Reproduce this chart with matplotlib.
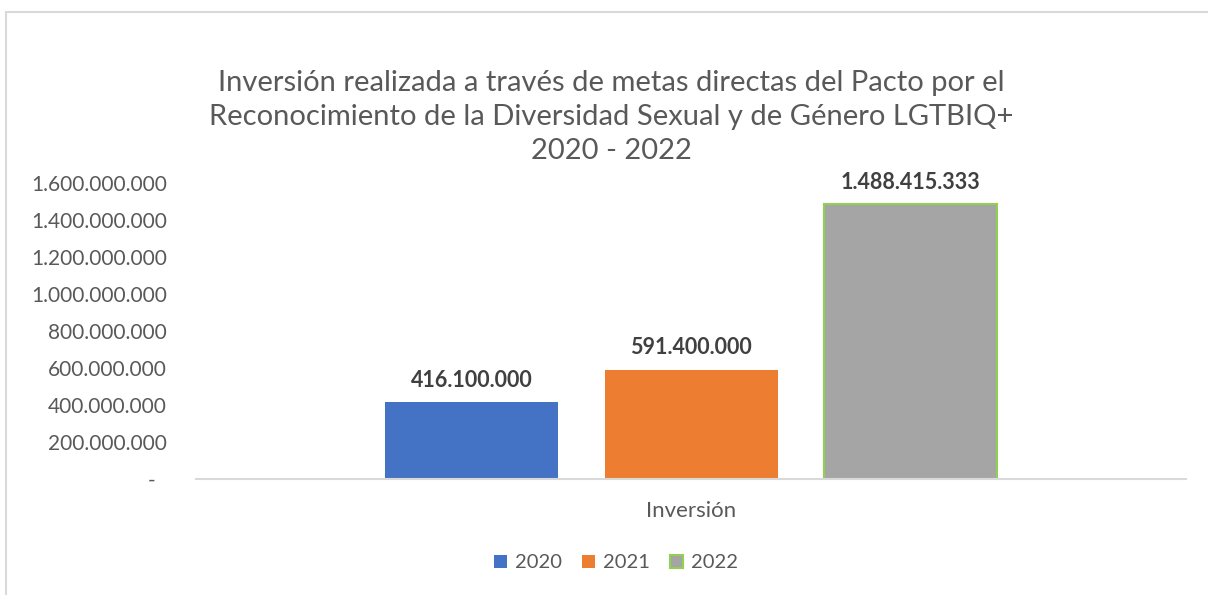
import matplotlib.pyplot as plt
import matplotlib.patches as patches
from matplotlib.ticker import FuncFormatter

# datos
anios = ['2020', '2021', '2022']
inversion = [416100000, 591400000, 1488415333]
categoria = 'Inversión'
colores = ['#4472c4', '#ed7d31', '#a5a5a5']
bordes = ['#4472c4', '#ed7d31', '#92d050']

plt.rcParams['font.family'] = ['Lato', 'DejaVu Sans']

fig = plt.figure(figsize=(12.08, 5.95), dpi=100)
ax = fig.add_axes([196 / 1208, 1 - 479 / 595, 990 / 1208, 296 / 595])

# marco del gráfico
fig.patches.append(patches.Rectangle((6 / 1208, -0.1), 1.2, 1 - 12 / 595 + 0.1,
                                     transform=fig.transFigure, fill=False,
                                     edgecolor='#d9d9d9', linewidth=1.5))

paso = 219.5 / 990
ancho = 173 / 990
for i, (a, v) in enumerate(zip(anios, inversion)):
    x = 0.5 + (i - 1) * paso
    ax.bar(x, v, width=ancho, color=colores[i], edgecolor=bordes[i],
           linewidth=1.5 if i == 2 else 0, label=a)
    ax.annotate('{:,}'.format(v).replace(',', '.'), (x, v), xytext=(0, 8),
                textcoords='offset points', ha='center', va='bottom',
                fontsize=15.5, fontweight='bold', color='#404040')

ax.set_xlim(0, 1)
ax.set_ylim(0, 1.6e9)
ax.set_yticks([i * 2e8 for i in range(9)])
ax.yaxis.set_major_formatter(FuncFormatter(
    lambda v, p: '-  ' if v == 0 else '{:,.0f}'.format(v).replace(',', '.')))
ax.set_xticks([0.5])
ax.set_xticklabels([categoria])
ax.tick_params(axis='both', length=0, labelsize=15, labelcolor='#595959')
ax.tick_params(axis='x', pad=16, labelsize=16)
ax.tick_params(axis='y', pad=21)
for s in ['top', 'right', 'left']:
    ax.spines[s].set_visible(False)
ax.spines['bottom'].set_color('#d9d9d9')
ax.spines['bottom'].set_linewidth(1.5)

fig.text(611 / 1208, 1 - 117 / 595,
         'Inversión realizada a través de metas directas del Pacto por el\n'
         'Reconocimiento de la Diversidad Sexual y de Género LGTBIQ+\n'
         '2020 - 2022', ha='center', va='center', fontsize=21,
         color='#595959', linespacing=1.38)

fig.legend(loc='center', bbox_to_anchor=(616 / 1208, 1 - 563 / 595), ncol=3,
           frameon=False, fontsize=14.5, labelcolor='#595959', handlelength=0.65,
           handleheight=0.65, handletextpad=0.4, columnspacing=1.0)

fig.savefig('out.png', dpi=100, facecolor='white')
